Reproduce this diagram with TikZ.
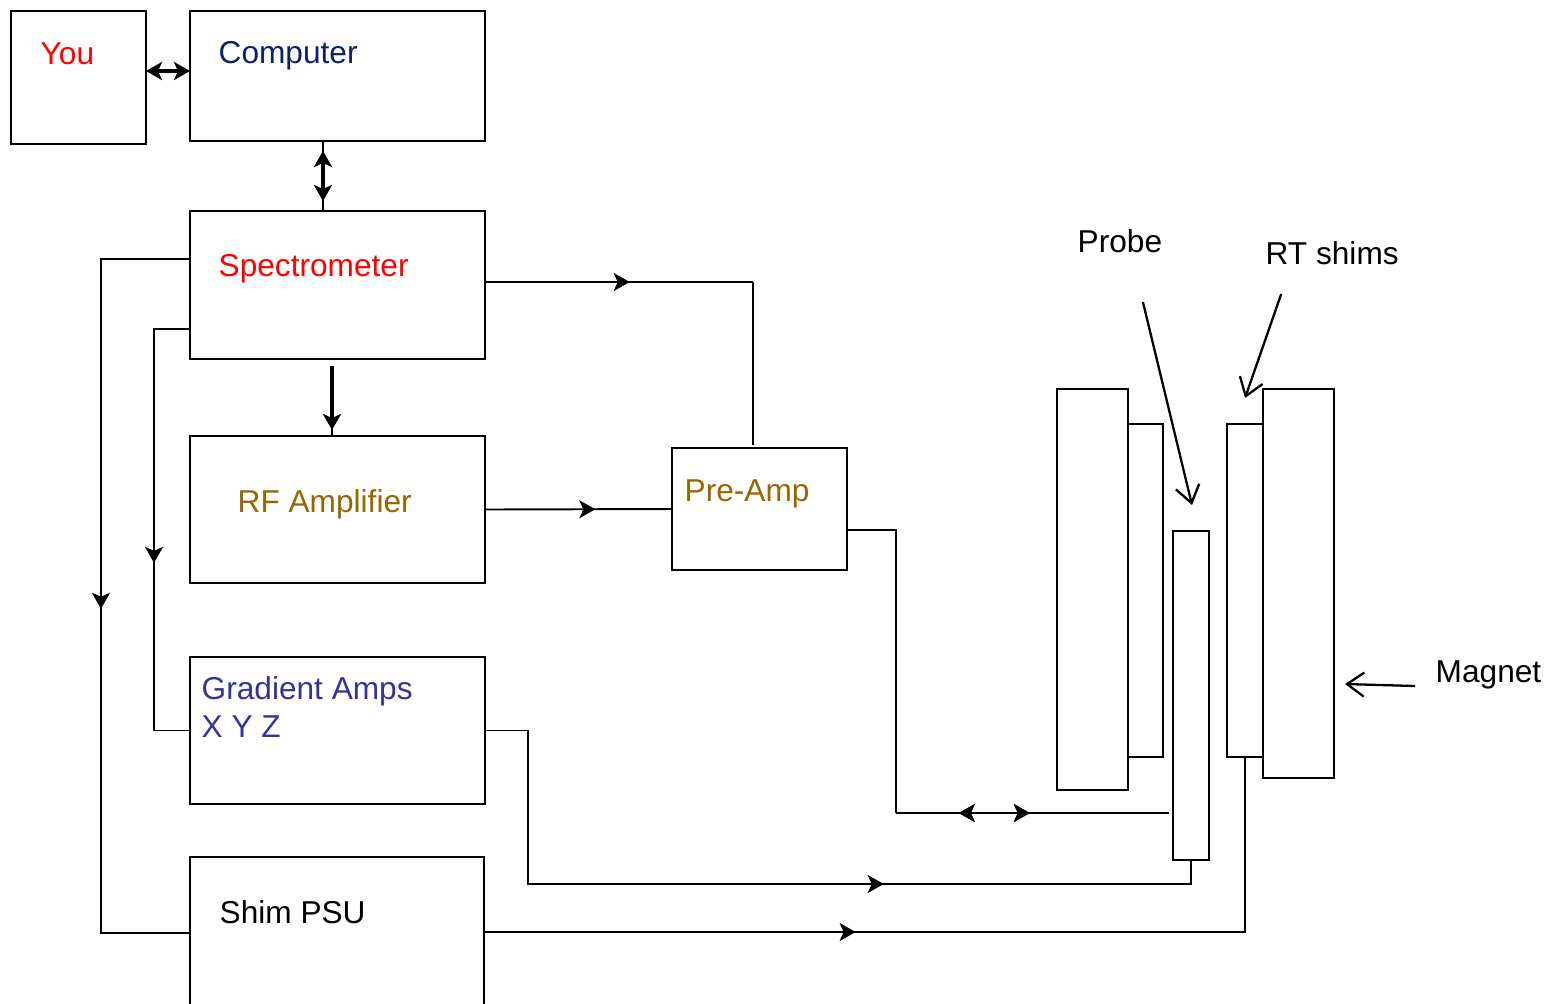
\documentclass[tikz,border=0pt]{standalone}
\usepackage{xcolor}
\usepackage{fontspec}
\setmainfont{Liberation Sans}
\usetikzlibrary{calc}
\usetikzlibrary{arrows.meta,positioning,decorations.markings}

\definecolor{youred}{HTML}{FF0000}
\definecolor{compblue}{HTML}{0C2266}
\definecolor{rfbrown}{HTML}{996600}
\definecolor{gradblue}{HTML}{333399}

\tikzset{
  box/.style={draw, line width=0.6pt, inner sep=0pt, outer sep=0pt, anchor=north west},
  lbl/.style={inner sep=0pt, anchor=base west, font=\fontsize{9pt}{10.8pt}\selectfont},
  wire/.style={line width=0.55pt},
  arr at/.style={wire, postaction={decorate}, decoration={markings,
      mark=at position #1 with {\arrow{Stealth[length=1.6mm,width=1.8mm,inset=0.4mm]}}}},
  arr back at/.style={wire, postaction={decorate}, decoration={markings,
      mark=at position #1 with {\arrowreversed{Stealth[length=1.6mm,width=1.8mm,inset=0.4mm]}}}},
  both/.style={line width=0.9pt, {Stealth[length=1.6mm,width=1.8mm,inset=0.4mm]}-{Stealth[length=1.6mm,width=1.8mm,inset=0.4mm]}},
  ptr/.style={line width=0.65pt, -{Straight Barb[length=1.7mm,width=2.4mm]}}
}

\begin{document}
\begin{tikzpicture}[x=0.1mm,y=-0.1mm]
	\useasboundingbox (0,0) rectangle (1544,1003);
	% boxes
	\node[box, minimum width=13.5mm, minimum height=13.3mm] (you) at (11,11) {};
	\node[box, minimum width=29.5mm, minimum height=13mm] (comp) at (190,11) {};
	\node[box, minimum width=29.5mm, minimum height=14.8mm] (spec) at (190,211) {};
	\node[box, minimum width=29.5mm, minimum height=14.7mm] (rf) at (190,436) {};
	\node[box, minimum width=29.5mm, minimum height=14.7mm] (grad) at (190,657) {};
	\node[box, minimum width=29.4mm, minimum height=16mm] (shim) at (190,857) {};
	\node[box, minimum width=17.5mm, minimum height=12.2mm] (pre) at (672,448) {};
	% magnet, shims and probe
	\node[box, minimum width=7.1mm, minimum height=40.1mm] (magl) at (1057,389) {};
	\node[box, minimum width=3.5mm, minimum height=33.3mm] (shiml) at (1128,424) {};
	\node[box, minimum width=3.6mm, minimum height=32.9mm] (probe) at (1173,531) {};
	\node[box, minimum width=3.6mm, minimum height=33.3mm] (shimr) at (1227,424) {};
	\node[box, minimum width=7.1mm, minimum height=38.9mm] (magr) at (1263,389) {};
	% labels
	\node[lbl, text=youred] (youtxt) at (40,64) {You};
	\node[lbl, text=compblue] (comptxt) at (218,63) {Computer};
	\node[lbl, text=youred] (spectxt) at (218,276) {Spectrometer};
	\node[lbl, text=rfbrown] (rftxt) at (237,512) {RF Amplifier};
	\node[lbl, text=rfbrown] (pretxt) at (684,501) {Pre-Amp};
	\node[lbl, text=gradblue, anchor=north west, align=left] (gradtxt) at (201,676) {Gradient Amps\\X Y Z};
	\node[lbl] (shimtxt) at (219,923) {Shim PSU};
	\node[lbl] (probetxt) at (1077,252) {Probe};
	\node[lbl] (rttxt) at (1265,264) {RT shims};
	\node[lbl] (magtxt) at (1435,682) {Magnet};

	% you <-> computer <-> spectrometer
	\draw[both] ($(you.north east)+(0,60)$) -- ($(comp.north west)+(0,60)$);
	\draw[wire] ($(comp.south west)+(133,0)$) -- ($(spec.north west)+(133,0)$);
	\draw[both, shorten <=1mm, shorten >=1mm] ($(comp.south west)+(133,0)$) -- ($(spec.north west)+(133,0)$);
	% spectrometer -> rf amplifier
	\draw[wire] ($(spec.south west)+(142,7)$) -- ($(rf.north west)+(142,0)$);
	\draw[line width=0.9pt, -{Stealth[length=1.6mm,width=1.8mm,inset=0.4mm]}, shorten >=0.6mm]
		($(spec.south west)+(142,7)$) -- ($(rf.north west)+(142,0)$);
	% spectrometer -> pre-amp
	\coordinate (prein) at (753,282);
	\draw[arr at=0.54] ($(spec.north east)+(0,71)$) -- (prein);
	\draw[wire] (prein) -- ($(pre.north west)+(81,-3)$);
	% rf amplifier -> pre-amp
	\draw[arr at=0.59] (rf.east) -- (pre.west);
	% pre-amp <-> probe
	\coordinate (bus) at (896,813);
	\draw[wire] ($(pre.north east)+(0,82)$) -| (bus);
	\draw[arr back at=0.23, arr at=0.49] (bus) -- ($(probe.west |- bus)+(-4,0)$);
	% spectrometer -> gradient amps and shim psu
	\draw[arr at=0.57] ($(spec.north west)+(0,118)$) -- ++(-36,0) |- (grad.west);
	\draw[arr at=0.515] ($(spec.north west)+(0,48)$) -- ++(-89,0) |- ($(shim.north west)+(0,76)$);
	% gradient amps -> probe
	\draw[arr at=0.625] (grad.east) -- ++(43,0) |- ($(probe.south)+(0,24)$) -- (probe.south);
	% shim psu -> rt shims
	\draw[arr at=0.397] ($(shim.north east)+(0,75)$) -| ($(shimr.south west)+(18,0)$);

	% pointers
	\coordinate (probetip) at (1192,505);
	\coordinate (rttip) at (1245,398);
	\coordinate (magtip) at (1345,684);
	\draw[ptr] ($(probetxt.base)+(23,50)$) -- (probetip);
	\draw[ptr] ($(rttxt.base)+(-51,30)$) -- (rttip);
	\draw[ptr] ($(magtxt.base west)+(-20,4)$) -- (magtip);
\end{tikzpicture}
\end{document}
